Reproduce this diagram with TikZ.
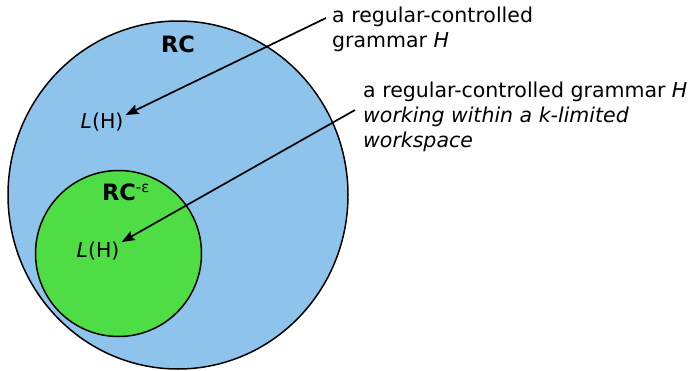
\documentclass[tikz,border=0pt]{standalone}
\usepackage{fontspec}
\setmainfont{DejaVu Sans}
\usetikzlibrary{shapes.geometric,arrows.meta}
\definecolor{rcblue}{RGB}{142,196,235}
\definecolor{rcgreen}{RGB}{78,221,69}

\begin{document}
\begin{tikzpicture}[x=1pt, y=-1pt, font=\fontsize{20.5}{25}\selectfont, setshape/.style={draw, line width=1.5pt}, setname/.style={font=\fontsize{22.5}{26}\selectfont\bfseries, inner sep=0pt}, lang/.style={inner sep=2pt}, note/.style={anchor=north west, inner sep=0pt, align=left}, pointer/.style={line width=1.7pt, -{Stealth[length=13pt,width=10pt,inset=2pt]}}]
\useasboundingbox (0,0) rectangle (691,370);
\node[setshape, ellipse, fill=rcblue, minimum width=340pt, minimum height=348pt] (rc) at (178,195) {};
\node[setshape, circle, fill=rcgreen, minimum size=166pt] (rceps) at (118.5,253.5) {};
\node[setname] (rclabel) at (178,44) {RC};
\node[setname] (rcepslabel) at (126,192) {RC\textsuperscript{\mdseries\fontsize{15}{15}\selectfont -ε}};
\node[lang] (lh1) at (102,122) {\textit{L}(H)};
\node[lang] (lh2) at (98,251) {\textit{L}(H)};
\node[note] (note1) at (332,6.5) {a regular-controlled\\grammar \textit{H}};
\node[note] (note2) at (363,81.5) {a regular-controlled grammar \textit{H}\\\textit{working within a k-limited}\\\textit{workspace}};
\coordinate (start1) at (326,18);
\coordinate (start2) at (355,110);
\draw[pointer] (start1) -- ([yshift=7pt]lh1.east);
\draw[pointer] (start2) -- ([yshift=9pt]lh2.east);
\end{tikzpicture}
\end{document}
